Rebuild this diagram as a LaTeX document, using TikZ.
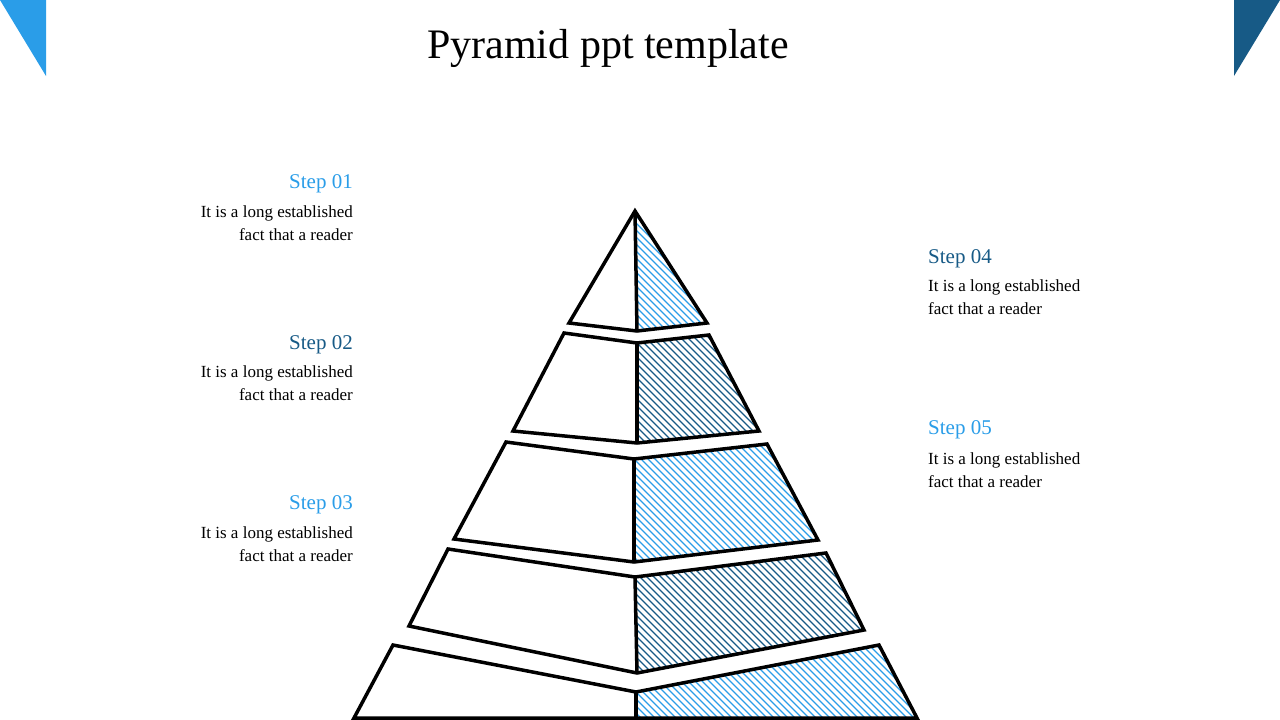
\documentclass[tikz,border=0pt]{standalone}
\usepackage{fontspec}
\setmainfont{Liberation Serif}
\definecolor{lb}{HTML}{2A9DE8}
\definecolor{db}{HTML}{175A86}
\begin{document}
\begin{tikzpicture}[x=1pt,y=-1pt,
  tier/.style={draw=black,line width=3.5pt,line join=miter},
  stp/.style={font=\fontsize{21}{24}\selectfont,inner sep=0pt},
  body/.style={font=\fontsize{17}{23}\selectfont,inner sep=0pt,align=#1}]
\useasboundingbox (0,0) rectangle (1280,720);
\fill[lb] (0,0) -- (46,0) -- (46,76) -- cycle;
\fill[db] (1234,0) -- (1280,0) -- (1234,76) -- cycle;
\node[font=\fontsize{42}{48}\selectfont] (title) at (608,48) {Pyramid ppt template};
% hatch helper
\newcommand{\hatchfill}[2]{%
  \begin{scope}\clip #2;
  \foreach \k in {-800,-793,...,800}{\draw[#1,line width=1.3pt] (600+\k,150) -- (1200+\k,750);}
  \end{scope}}
% tier 1
\hatchfill{lb}{(635,211) -- (707,323) -- (637,331) -- cycle}
\draw[tier] (635,211) -- (707,323) -- (637,331) -- (569,323) -- cycle;
\draw[tier] (635,211) -- (637,331);
% tier 2
\hatchfill{db}{(637,343) -- (709,335) -- (759,431) -- (637,443) -- cycle}
\draw[tier] (564,333) -- (637,343) -- (709,335) -- (759,431) -- (637,443) -- (513,431) -- cycle;
\draw[tier] (637,343) -- (637,443);
% tier 3
\hatchfill{lb}{(634,459) -- (767,444) -- (818,540) -- (634,562) -- cycle}
\draw[tier] (506,442) -- (634,459) -- (767,444) -- (818,540) -- (634,562) -- (454,539) -- cycle;
\draw[tier] (634,459) -- (634,562);
% tier 4
\hatchfill{db}{(635,577) -- (826,553) -- (864,630) -- (637,673) -- cycle}
\draw[tier] (448,549) -- (635,577) -- (826,553) -- (864,630) -- (637,673) -- (409,626) -- cycle;
\draw[tier] (635,577) -- (637,673);
% tier 5
\hatchfill{lb}{(636,692) -- (879,645) -- (917,718) -- (636,718) -- cycle}
\draw[tier] (393,645) -- (636,692) -- (879,645) -- (917,718) -- (354,718) -- cycle;
\draw[tier] (636,692) -- (636,718);
% texts
\node[stp,lb,anchor=east] (s1) at (353,184) {Step 01};
\node[body=right,anchor=north east] (b1) at (353,206) {It is a long established\\fact that a reader};
\node[stp,db,anchor=east] (s2) at (353,345) {Step 02};
\node[body=right,anchor=north east] (b2) at (353,366) {It is a long established\\fact that a reader};
\node[stp,lb,anchor=east] (s3) at (353,505) {Step 03};
\node[body=right,anchor=north east] (b3) at (353,526) {It is a long established\\fact that a reader};
\node[stp,db,anchor=west] (s4) at (928,259) {Step 04};
\node[body=left,anchor=north west] (b4) at (928,280) {It is a long established\\fact that a reader};
\node[stp,lb,anchor=west] (s5) at (928,430) {Step 05};
\node[body=left,anchor=north west] (b5) at (928,452) {It is a long established\\fact that a reader};
\end{tikzpicture}
\end{document}
